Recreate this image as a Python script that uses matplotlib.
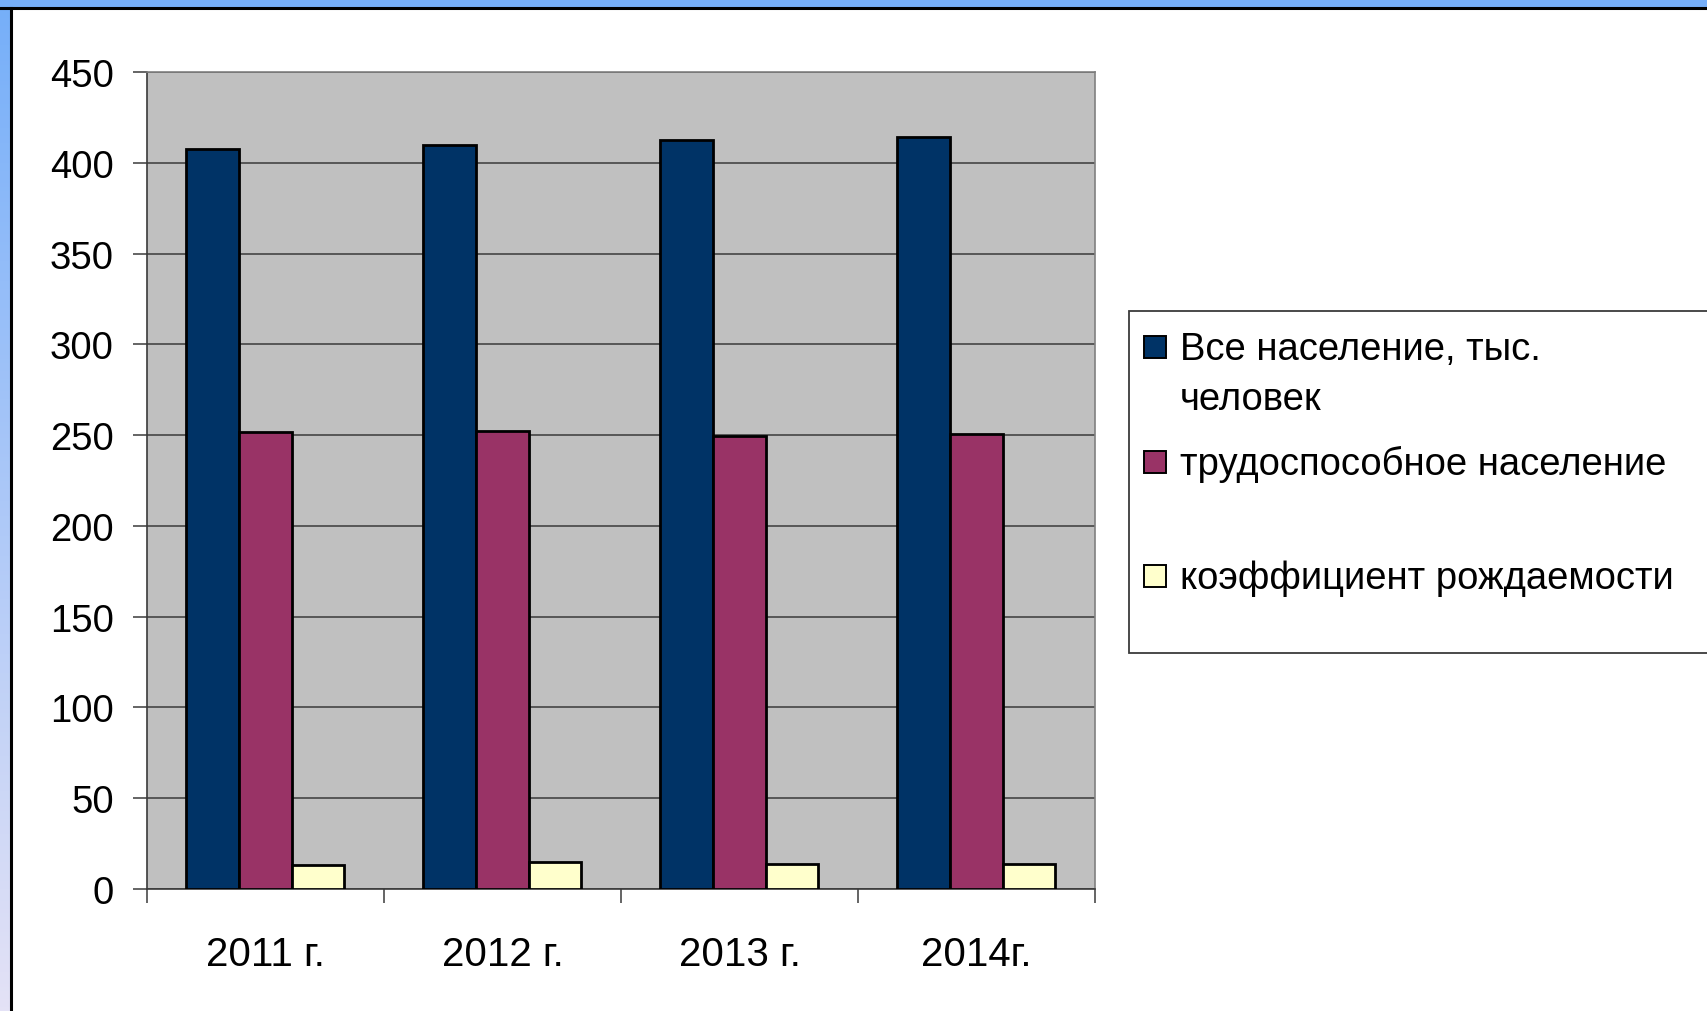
import numpy as np
import matplotlib
matplotlib.use("Agg")
import matplotlib.pyplot as plt
from matplotlib.patches import Rectangle

plt.rcParams['font.family'] = ['Liberation Sans', 'DejaVu Sans']

categories = ["2011 г.", "2012 г.", "2013 г.", "2014г."]
series_names = [["Все население, тыс.", "человек"], ["трудоспособное население"], ["коэффициент рождаемости"]]
total_pop = [407.4, 409.7, 412.5, 414.0]
working_pop = [251.9, 252.0, 249.3, 250.8]
birth_rate = [13.3, 14.7, 13.6, 13.6]
colors = ["#003366", "#993366", "#FFFFCC"]
yticks = [0, 50, 100, 150, 200, 250, 300, 350, 400, 450]

W, H = 1708, 1012
fig = plt.figure(figsize=(W / 100, H / 100), dpi=100)
fig.patch.set_facecolor("white")

# decorative slide frame: top blue band and left gradient strip
top_band = fig.add_axes([0, 1 - 7.5 / H, 1, 7.5 / H])
top_band.set_axis_off()
top_band.add_patch(Rectangle((0, 0), 1, 1, transform=top_band.transAxes, color="#76AFF9"))
left_strip = fig.add_axes([0, 0, 10.5 / W, 1 - 7.5 / H])
left_strip.set_axis_off()
grad = np.linspace(0, 1, 256)[:, None]
c_top = np.array([118, 175, 249]) / 255
c_bot = np.array([228, 226, 246]) / 255
img = c_top[None, None, :] * (1 - grad[:, :, None]) + c_bot[None, None, :] * grad[:, :, None]
left_strip.imshow(img, aspect="auto", extent=[0, 1, 0, 1])
fig.add_artist(plt.Line2D([0, 1], [1 - 8.7 / H, 1 - 8.7 / H], transform=fig.transFigure, color="black", lw=2.2))
fig.add_artist(plt.Line2D([11.2 / W, 11.2 / W], [0, 1 - 8.7 / H], transform=fig.transFigure, color="black", lw=2.2))

# main chart
ax = fig.add_axes([147 / W, 1 - 890 / H, (1095 - 147) / W, (890 - 73) / H])
ax.set_facecolor("#C0C0C0")
x = np.arange(len(categories))
w = 1 / 4.5
for i, (vals, col) in enumerate(zip([total_pop, working_pop, birth_rate], colors)):
    ax.bar(x + (i - 1) * w, vals, width=w, color=col, edgecolor="black", linewidth=2.0, zorder=3)

ax.set_xlim(-0.5, len(categories) - 0.5)
ax.set_ylim(0, 450)
ax.set_yticks(yticks)
ax.yaxis.grid(True, color="#3a3a3a", linewidth=1.1, zorder=1)
ax.set_axisbelow(True)
ax.set_xticks(x)
ax.set_xticklabels(categories)
ax.set_xticks(np.arange(len(categories) + 1) - 0.5, minor=True)
ax.tick_params(axis="x", which="major", length=0, pad=33, labelsize=29)
ax.tick_params(axis="x", which="minor", length=10, width=1.1, color="#3a3a3a", direction="out")
ax.tick_params(axis="y", length=10, width=1.1, color="#3a3a3a", pad=14, labelsize=27.5)
for s in ["left", "bottom"]:
    ax.spines[s].set_color("#3a3a3a")
    ax.spines[s].set_linewidth(1.2)
for s in ["top", "right"]:
    ax.spines[s].set_color("#808080")
    ax.spines[s].set_linewidth(1.2)

# legend (drawn in pixel coordinates of the figure)
def fx(px):
    return px / W

def fy(py):
    return 1 - py / H

fig.add_artist(Rectangle((fx(1129), fy(654)), fx(1720) - fx(1129), fy(312) - fy(654),
                         transform=fig.transFigure, facecolor="white", edgecolor="#3a3a3a", lw=1.3))
baselines = [360, 475, 589]
for lines, col, base in zip(series_names, colors, baselines):
    fig.add_artist(Rectangle((fx(1144), fy(base - 1)), fx(1166) - fx(1144), fy(base - 23) - fy(base - 1),
                             transform=fig.transFigure, facecolor=col, edgecolor="black", lw=1.4))
    for k, line in enumerate(lines):
        fig.text(fx(1180), fy(base + 50 * k), line, fontsize=27.5, ha="left", va="baseline")

fig.savefig("out.png", dpi=100)
